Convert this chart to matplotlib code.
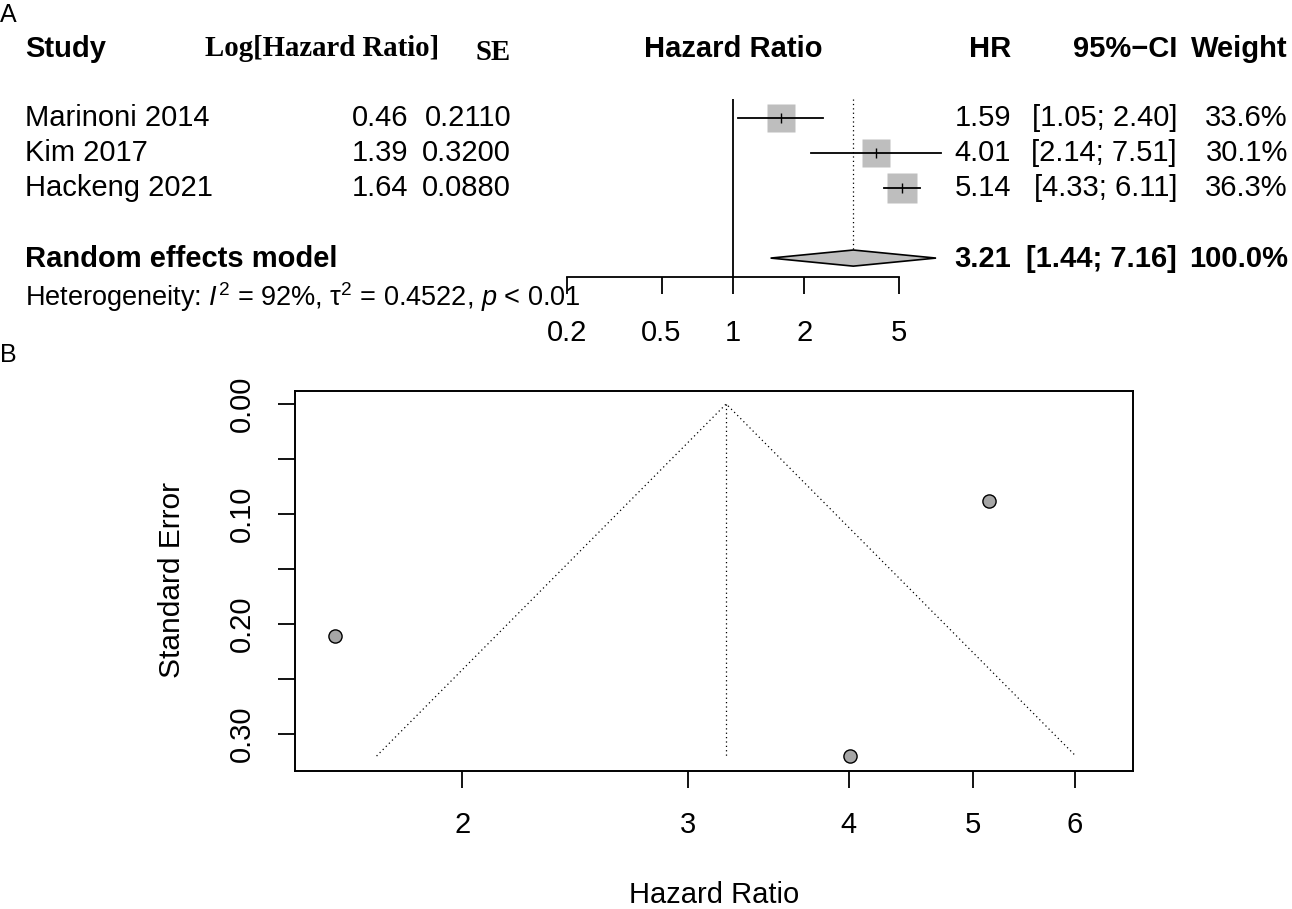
import numpy as np
import matplotlib
matplotlib.use("Agg")
import matplotlib.pyplot as plt
from matplotlib.patches import Polygon

# study data
studies = ["Marinoni 2014", "Kim 2017", "Hackeng 2021"]
log_hr = [0.46, 1.39, 1.64]
se = [0.2110, 0.3200, 0.0880]
hr = [1.59, 4.01, 5.14]
ci_lo = [1.05, 2.14, 4.33]
ci_hi = [2.40, 7.51, 6.11]
weight = [33.6, 30.1, 36.3]

# random effects model
pooled_hr = 3.21
pooled_lo = 1.44
pooled_hi = 7.16
i2 = 92
tau2 = 0.4522

forest_ticks = [0.2, 0.5, 1, 2, 5]
funnel_xticks = [2, 3, 4, 5, 6]
funnel_yticks = [0.00, 0.05, 0.10, 0.15, 0.20, 0.25, 0.30]

plt.rcParams['font.family'] = ['Liberation Sans', 'DejaVu Sans']
plt.rcParams['mathtext.fontset'] = 'custom'
plt.rcParams['mathtext.rm'] = 'Liberation Sans'
plt.rcParams['mathtext.it'] = 'Liberation Sans:italic'

W, H = 1292, 909
fig = plt.figure(figsize=(W / 100, H / 100), dpi=100)


def fx(px):
    return px / W


def fy(py):
    return 1 - py / H


def box(left, top, right, bottom):
    return [fx(left), fy(bottom), fx(right) - fx(left), fy(top) - fy(bottom)]


fs = 21

# ---------------- panel A: forest plot ----------------
ax = fig.add_axes(box(567, 99, 899, 277))
ax.set_xscale('log')
ax.set_xlim(0.2, 5)
ax.set_ylim(5.54, 0.46)
for s in ['top', 'left', 'right']:
    ax.spines[s].set_visible(False)
ax.spines['bottom'].set_linewidth(1.3)
ax.set_xticks(forest_ticks)
ax.set_xticklabels([('%g' % t) for t in forest_ticks])
ax.minorticks_off()
ax.tick_params(axis='x', length=12, width=1.3, pad=18, labelsize=fs)
ax.set_yticks([])
ax.patch.set_visible(False)

rows = [1, 2, 3]
sum_row = 5
ax.axvline(1, color='black', lw=1.3)
ax.plot([pooled_hr, pooled_hr], [0.46, sum_row - 0.23], color='black',
        lw=0.9, linestyle=(0, (1, 2.5)), clip_on=False)

for i, r in enumerate(rows):
    ax.plot(hr[i], r, marker='s', markersize=3.55 * np.sqrt(weight[i]),
            color='#BEBEBE', mec='none', clip_on=False, zorder=2)
    ax.plot([ci_lo[i], ci_hi[i]], [r, r], color='black', lw=1.3,
            clip_on=False, zorder=3)
    ax.plot(hr[i], r, marker='|', markersize=7, mew=1.0, color='black',
            clip_on=False, zorder=4)

dia = Polygon([[pooled_lo, sum_row], [pooled_hr, sum_row - 0.23],
               [pooled_hi, sum_row], [pooled_hr, sum_row + 0.23]],
              closed=True, facecolor='#BEBEBE', edgecolor='black', lw=1.2,
              clip_on=False, zorder=3)
ax.add_patch(dia)

# column texts (pixel positions of the columns)
row_y = [118, 153, 188]
sum_y = 259
head_y = 49

fig.text(fx(0), fy(15), "A", fontsize=18, va='center', ha='left')
fig.text(fx(25), fy(head_y), "Study", fontsize=fs, fontweight='bold',
         va='center')
fig.text(fx(322), fy(head_y - 1), "Log[Hazard Ratio]", fontsize=20.7,
         fontweight='bold', family='Liberation Serif', ha='center', va='center')
fig.text(fx(493), fy(head_y + 3), "SE", fontsize=20.7, fontweight='bold',
         family='Liberation Serif', ha='center', va='center')
fig.text(fx(733), fy(head_y), "Hazard Ratio", fontsize=fs, fontweight='bold',
         ha='center', va='center')
fig.text(fx(1011), fy(head_y), "HR", fontsize=fs, fontweight='bold',
         ha='right', va='center')
fig.text(fx(1177), fy(head_y), "95%\u2212CI", fontsize=fs, fontweight='bold',
         ha='right', va='center')
fig.text(fx(1288), fy(head_y), "Weight", fontsize=fs, fontweight='bold',
         ha='right', va='center')

for i, y in enumerate(row_y):
    fig.text(fx(25), fy(y), studies[i], fontsize=fs, va='center')
    fig.text(fx(408), fy(y), '%.2f' % log_hr[i], fontsize=fs, va='center',
             ha='right')
    fig.text(fx(511), fy(y), '%.4f' % se[i], fontsize=fs, va='center',
             ha='right')
    fig.text(fx(1011), fy(y), '%.2f' % hr[i], fontsize=fs, va='center',
             ha='right')
    fig.text(fx(1177), fy(y), '[%.2f; %.2f]' % (ci_lo[i], ci_hi[i]),
             fontsize=fs, va='center', ha='right')
    fig.text(fx(1288), fy(y), '%.1f%%' % weight[i], fontsize=fs,
             va='center', ha='right')

fig.text(fx(25), fy(sum_y), "Random effects model", fontsize=fs,
         fontweight='bold', va='center')
fig.text(fx(1011), fy(sum_y), '%.2f' % pooled_hr, fontsize=fs,
         fontweight='bold', va='center', ha='right')
fig.text(fx(1177), fy(sum_y), '[%.2f; %.2f]' % (pooled_lo, pooled_hi),
         fontsize=fs, fontweight='bold', va='center', ha='right')
fig.text(fx(1288), fy(sum_y), '100.0%', fontsize=fs, fontweight='bold',
         va='center', ha='right')
fig.text(fx(25), fy(297),
         "Heterogeneity: $I^{2}$ = %d%%, \u03c4$^{2}$ = %.4f, $p$ < 0.01" % (i2, tau2),
         fontsize=19.5, va='center')

# ---------------- panel B: funnel plot ----------------
fig.text(fx(0), fy(355), "B", fontsize=18, va='center', ha='left')

bx = fig.add_axes(box(295, 391, 1133, 771))
bx.set_xscale('log')
bx.set_xlim(1.481, 6.66)
bx.set_ylim(0.3336, -0.0118)
for s in bx.spines.values():
    s.set_linewidth(1.4)

c = np.log(pooled_hr)
se_max = max(se)
left = np.exp(c - 1.96 * se_max)
right = np.exp(c + 1.96 * se_max)
bx.plot([left, pooled_hr, right], [se_max, 0, se_max], color='black',
        lw=0.9, linestyle=(0, (1, 2.5)))
bx.plot([pooled_hr, pooled_hr], [0, se_max], color='black', lw=0.9,
        linestyle=(0, (1, 2.5)))
bx.plot(hr, se, 'o', markersize=9.5, color='#A6A6A6', mec='black', mew=1.0,
        clip_on=False, zorder=5)

bx.set_xticks(funnel_xticks)
bx.set_xticklabels([str(t) for t in funnel_xticks])
bx.minorticks_off()
bx.set_yticks(funnel_yticks)
bx.set_yticklabels([('%.2f' % t) if k % 2 == 0 else ''
                    for k, t in enumerate(funnel_yticks)],
                   rotation=90, va='center')
bx.tick_params(axis='both', length=12, width=1.3, labelsize=fs)
bx.tick_params(axis='x', pad=17)
bx.tick_params(axis='y', pad=16)

fig.text(fx(714), fy(895), "Hazard Ratio", fontsize=fs, ha='center',
         va='center')
fig.text(fx(172), fy(580), "Standard Error", fontsize=21.5, ha='center',
         va='center', rotation=90)

fig.savefig("out.png", dpi=100)
